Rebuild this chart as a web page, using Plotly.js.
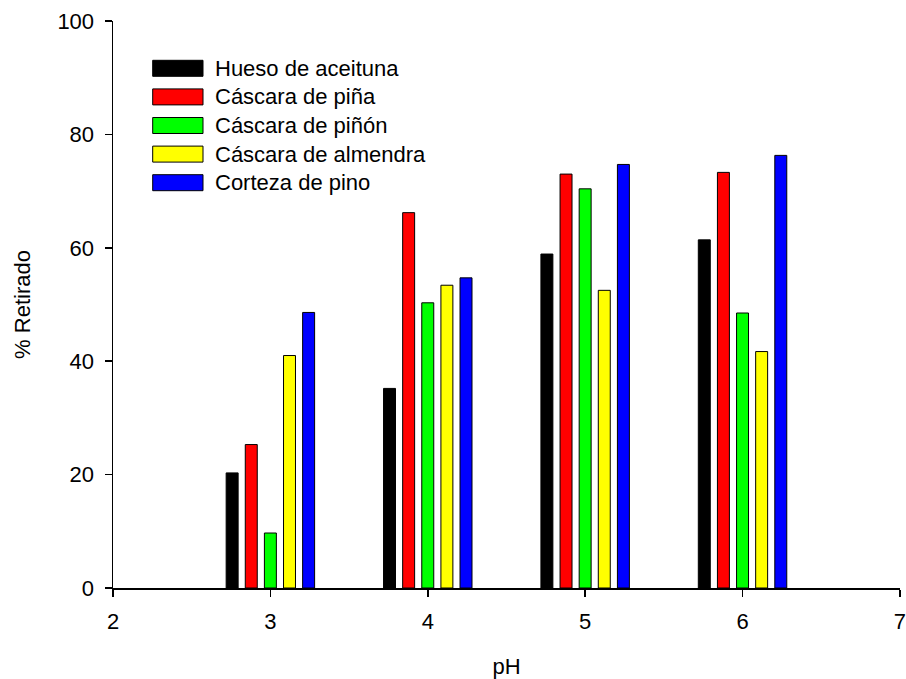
<!DOCTYPE html>
<html>
<head>
<meta charset="utf-8">
<script src="https://cdn.plot.ly/plotly-3.0.1.min.js"></script>
<style>html,body{margin:0;padding:0;background:#fff;}#chart{width:906px;height:679px;}</style>
</head>
<body>
<div id="chart"></div>
<script>
const categories = [3, 4, 5, 6];
const seriesNames = ["Hueso de aceituna", "Cáscara de piña", "Cáscara de piñón", "Cáscara de almendra", "Corteza de pino"];
const huesoAceituna = [20.3, 35.2, 58.9, 61.4];
const cascaraPina = [25.3, 66.2, 73.0, 73.3];
const cascaraPinon = [9.7, 50.3, 70.4, 48.5];
const cascaraAlmendra = [41.0, 53.4, 52.5, 41.7];
const cortezaPino = [48.6, 54.7, 74.7, 76.3];
const xTicks = [2, 3, 4, 5, 6, 7];
const yTicks = [0, 20, 40, 60, 80, 100];

const seriesValues = [huesoAceituna, cascaraPina, cascaraPinon, cascaraAlmendra, cortezaPino];
const colors = ["#000000", "#ff0000", "#00ff00", "#ffff00", "#0000ff"];

const W = 906, H = 679;
const M = {l: 113, r: 6, t: 21, b: 91};
const pw = W - M.l - M.r, ph = H - M.t - M.b;
const px = v => (v - M.l) / pw;
const py = v => (H - M.b - v) / ph;

const FONT = "Liberation Sans, Arial, sans-serif";
const FS = 22;

const traces = seriesValues.map((vals, i) => ({
  type: "bar",
  name: seriesNames[i],
  x: categories,
  y: vals,
  marker: {color: colors[i], line: {color: "#000", width: 1}},
  showlegend: false,
  hoverinfo: "x+y+name"
}));

const shapes = [];
const annotations = [];
const rowY0 = 68.3, rowStep = 28.6;
seriesNames.forEach((n, i) => {
  const cy = rowY0 + i * rowStep;
  shapes.push({
    type: "rect", xref: "paper", yref: "paper",
    x0: px(152.7), x1: px(203), y0: py(cy + 8), y1: py(cy - 8),
    fillcolor: colors[i], line: {color: "#000", width: 1}
  });
  annotations.push({
    xref: "paper", yref: "paper", x: px(213), y: py(cy),
    xanchor: "left", yanchor: "middle", showarrow: false,
    text: n, font: {family: FONT, size: FS, color: "#000"}
  });
});

const layout = {
  width: W, height: H,
  margin: M,
  paper_bgcolor: "#fff", plot_bgcolor: "#fff",
  font: {family: FONT, size: FS, color: "#000"},
  barmode: "group",
  bargap: 0.3925,
  bargroupgap: 0.374,
  xaxis: {
    range: [2, 7.0005], tickvals: xTicks, ticktext: xTicks.map(String),
    showgrid: false, zeroline: false, showline: true, linecolor: "#000", linewidth: 1.5,
    ticks: "outside", ticklen: 7, tickwidth: 1.5, tickcolor: "#000",
    ticklabeloverflow: "allow", ticklabelstandoff: 6,
    tickfont: {family: FONT, size: FS},
    title: {text: "pH", font: {family: FONT, size: FS}, standoff: 33}
  },
  yaxis: {
    range: [0, 100.0005], tickvals: yTicks, ticktext: yTicks.map(String),
    showgrid: false, zeroline: false, showline: true, linecolor: "#000", linewidth: 1.5,
    ticks: "outside", ticklen: 7, tickwidth: 1.5, tickcolor: "#000",
    ticklabelstandoff: 6, ticklabeloverflow: "allow",
    tickfont: {family: FONT, size: FS},
    title: {text: "% Retirado", font: {family: FONT, size: FS}, standoff: 20}
  },
  shapes: shapes,
  annotations: annotations
};

Plotly.newPlot("chart", traces, layout, {displayModeBar: false, staticPlot: true});
</script>
</body>
</html>
